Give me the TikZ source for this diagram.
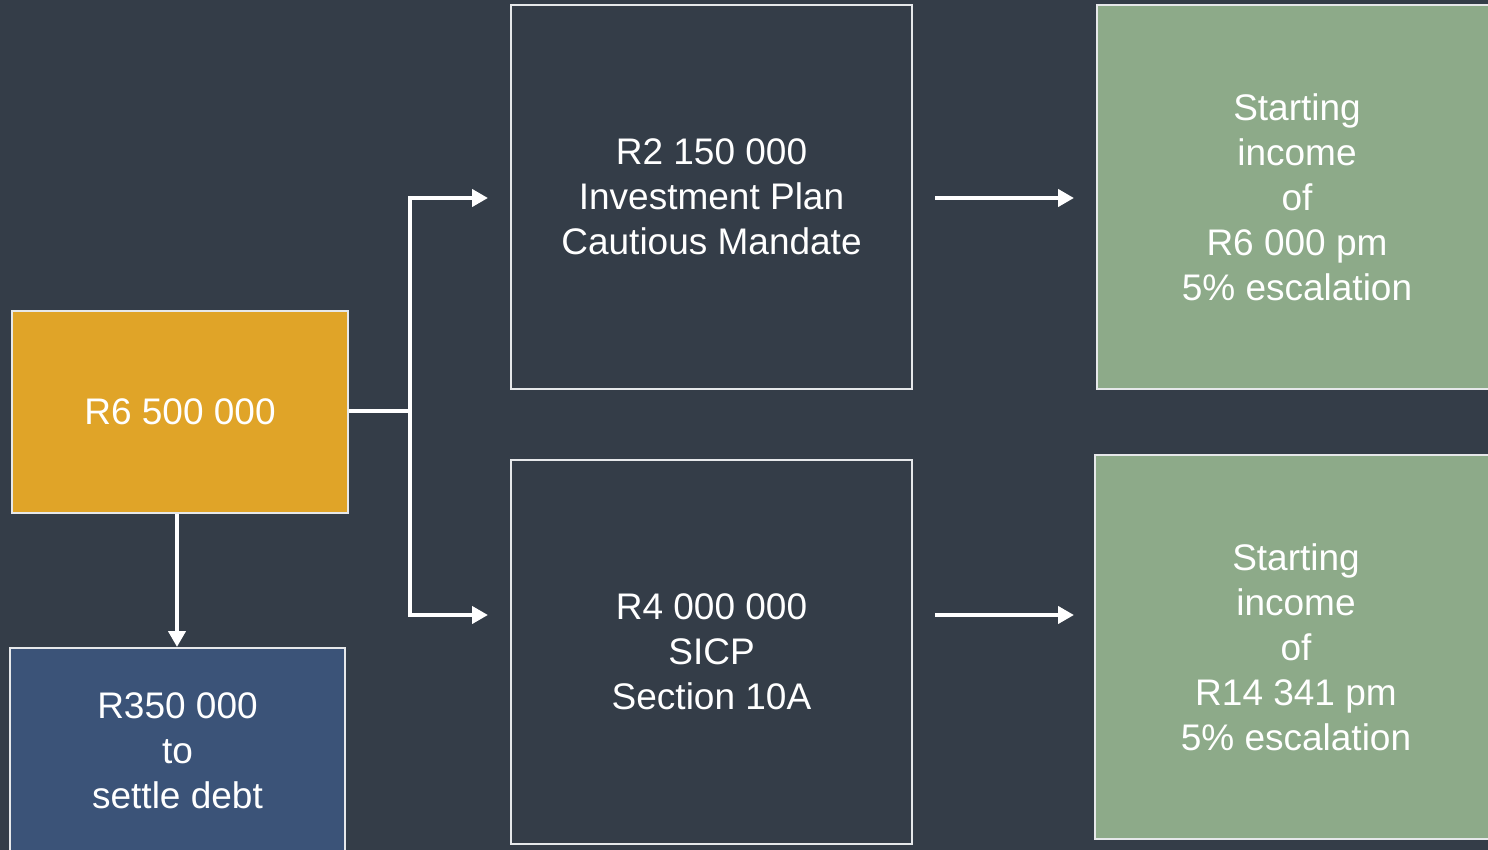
\documentclass[tikz,border=0pt]{standalone}
\usepackage{fontspec}
\setmainfont{Liberation Sans}
\usetikzlibrary{arrows.meta}
\definecolor{bg}{HTML}{343D48}
\definecolor{gold}{HTML}{E0A428}
\definecolor{navy}{HTML}{3B5378}
\definecolor{sage}{HTML}{8DAA89}
\definecolor{edge}{HTML}{E6E8EA}
\tikzset{
  box/.style={draw=edge, line width=0.75pt, text=white, align=center, inner sep=0pt,
    font=\fontsize{18.5pt}{22.5pt}\selectfont},
  conn/.style={draw=white, line width=2pt},
  arr/.style={conn, -{Triangle[length=8pt,width=8.5pt]}},
}
\begin{document}
\begin{tikzpicture}[x=0.5pt,y=-0.5pt]
\fill[bg] (0,0) rectangle (1488,850);
\useasboundingbox (0,0) rectangle (1488,850);
\begin{scope}
\clip (0,0) rectangle (1488,850);
\node[box, fill=gold, minimum width=168pt, minimum height=101pt] (src) at (180,412) {R6 500 000};
\node[box, fill=navy, minimum width=167.5pt, minimum height=103pt, text depth=0pt] (debt) at (177.5,751) {R350 000\\to\\settle debt};
\node[box, fill=bg, minimum width=200.5pt, minimum height=192pt] (inv) at (711.5,197) {R2 150 000\\Investment Plan\\Cautious Mandate};
\node[box, fill=bg, minimum width=200.5pt, minimum height=192pt] (sicp) at (711.5,652) {R4 000 000\\SICP\\Section 10A};
\node[box, fill=sage, minimum width=200pt, minimum height=192pt] (inc1) at (1297,197) {Starting\\income\\of\\R6 000 pm\\5\% escalation};
\node[box, fill=sage, minimum width=201pt, minimum height=192pt] (inc2) at (1296,647) {Starting\\income\\of\\R14 341 pm\\5\% escalation};
\end{scope}
\coordinate (j) at (410,411);
\coordinate (a1) at (488,198);
\coordinate (a2) at (488,615);
\coordinate (b1s) at (935,198);
\coordinate (b1e) at (1074,198);
\coordinate (b2s) at (935,615);
\coordinate (b2e) at (1074,615);
\coordinate (d) at (177,647);
\draw[conn] (src.east |- j) -- (j);
\draw[arr] (j) |- (a1);
\draw[arr] (j) |- (a2);
\draw[arr] (b1s) -- (b1e);
\draw[arr] (b2s) -- (b2e);
\draw[arr] (src.south -| d) -- (d);
\end{tikzpicture}
\end{document}
